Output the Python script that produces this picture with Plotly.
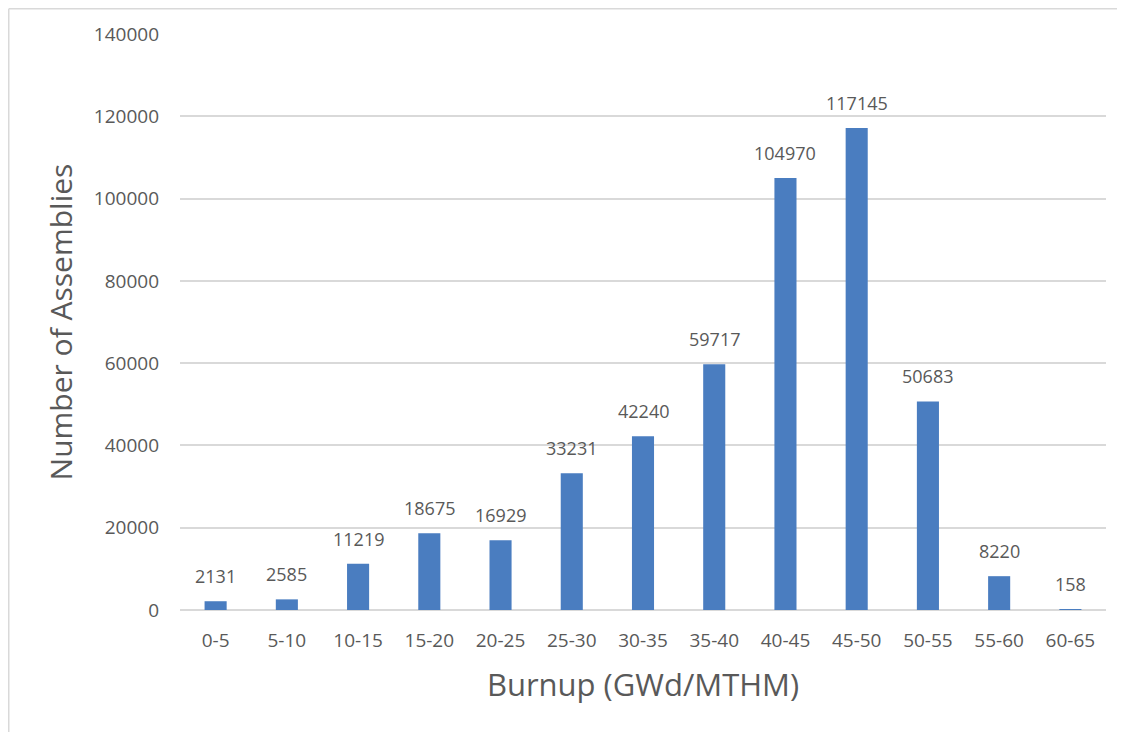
import plotly.graph_objects as go

categories = ["0-5", "5-10", "10-15", "15-20", "20-25", "25-30", "30-35",
              "35-40", "40-45", "45-50", "50-55", "55-60", "60-65"]
assemblies = [2131, 2585, 11219, 18675, 16929, 33231, 42240,
              59717, 104970, 117145, 50683, 8220, 158]
y_ticks = [0, 20000, 40000, 60000, 80000, 100000, 120000, 140000]
y_tick_labels = [str(v) for v in y_ticks]

FONT = "Open Sans"
TXT = "#595959"
BAR = "#4A7DC0"
GRID = "#D9D9D9"

fig = go.Figure()
fig.add_trace(go.Bar(x=categories, y=assemblies, marker_color=BAR,
                     marker_line_width=0, width=0.31, hoverinfo="x+y"))

for c, v in zip(categories, assemblies):
    fig.add_annotation(x=c, y=v, text=str(v), showarrow=False,
                       yanchor="bottom", yshift=11,
                       font=dict(family=FONT, size=18, color=TXT))

# page is offset by the 8px body margin
W, H = 1117, 724
L, R, T, B = 172, 19, 26, 122
pw, ph = W - L - R, H - T - B

def px(x):
    return (x - L) / pw

def py(y):
    return (H - B - y) / ph

fig.add_shape(type="line", xref="paper", yref="paper",
              x0=px(0.75), x1=px(W), y0=py(0.75), y1=py(0.75),
              line=dict(color=GRID, width=1.5))
fig.add_shape(type="line", xref="paper", yref="paper",
              x0=px(0.75), x1=px(0.75), y0=py(0.75), y1=py(H),
              line=dict(color=GRID, width=1.5))

fig.update_layout(
    width=W, height=H,
    margin=dict(l=L, r=R, t=T, b=B),
    paper_bgcolor="white", plot_bgcolor="white",
    showlegend=False,
    font=dict(family=FONT, color=TXT),
    xaxis=dict(
        type="category", showgrid=False, showline=False, zeroline=False,
        tickfont=dict(family=FONT, size=19, color=TXT),
        ticklabelstandoff=17,
        title=dict(text="Burnup (GWd/MTHM)", standoff=22,
                   font=dict(family=FONT, size=31, color=TXT)),
    ),
    yaxis=dict(
        range=[0, 140000], tickvals=y_ticks, ticktext=y_tick_labels,
        showgrid=True,
        gridcolor=GRID, gridwidth=1.5, zeroline=True, zerolinecolor=GRID,
        zerolinewidth=1.5, showline=False,
        tickfont=dict(family=FONT, size=19, color=TXT),
        ticklabelstandoff=20,
        title=dict(text="Number of Assemblies", standoff=12,
                   font=dict(family=FONT, size=30, color=TXT)),
    ),
)

fig.write_html("out.html")
